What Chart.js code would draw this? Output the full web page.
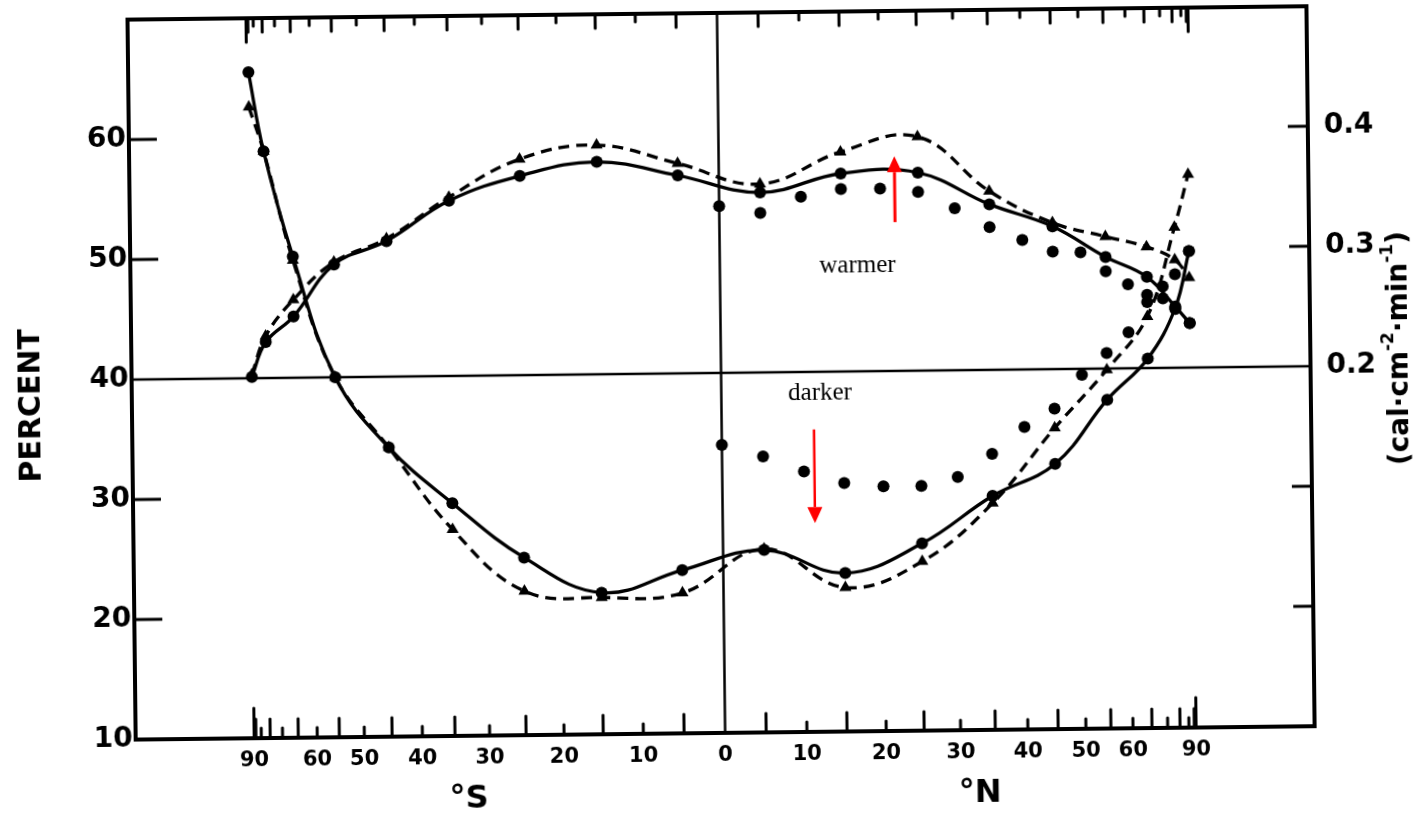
<!DOCTYPE html>
<html>
<head>
<meta charset="utf-8">
<script src="https://cdn.jsdelivr.net/npm/chart.js@4.4.1/dist/chart.umd.min.js"></script>
<style>
  html, body { margin: 0; padding: 0; background: #fff; overflow: hidden; }
  #wrap { width: 1426px; height: 824px; transform: rotate(-0.65deg); transform-origin: 713px 412px; }
  canvas { display: block; }
</style>
</head>
<body>
<div id="wrap"><canvas id="chart" width="1426" height="824"></canvas></div>
<script>
// Centres of the 10-degree latitude bands (negative = south)
const bandLats = [-85, -75, -65, -55, -45, -35, -25, -15, -5, 5, 15, 25, 35, 45, 55, 65, 75, 85];

// Outgoing long-wave radiation, cal cm^-2 min^-1 (right axis)
const irSolid  = [0.201, 0.230, 0.251, 0.294, 0.313, 0.346, 0.366, 0.377, 0.365, 0.350, 0.365, 0.365, 0.338, 0.319, 0.293, 0.276, 0.251, 0.237];
const irDashed = [0.203, 0.235, 0.265, 0.296, 0.315, 0.349, 0.380, 0.391, 0.375, 0.357, 0.383, 0.395, 0.349, 0.322, 0.310, 0.301, 0.290, 0.275];

// Albedo, percent (left axis)
const albedoSolid  = [65.5, 58.9, 50.1, 40.0, 34.1, 29.4, 24.8, 21.8, 23.6, 25.2, 23.2, 25.6, 29.5, 32.1, 37.4, 40.8, 45.0, 49.7];
const albedoDashed = [62.6, 58.9, 49.8, 40.0, 34.1, 27.2, 22.0, 21.4, 21.7, 25.3, 22.0, 24.1, 28.9, 35.1, 39.9, 44.3, 51.7, 56.1];

// Northern hemisphere case, 5-degree steps
const nhLats       = [0, 5, 10, 15, 20, 25, 30, 35, 40, 45, 50, 55, 60, 65, 70, 75, 85];
const irDotted     = [0.339, 0.333, 0.346, 0.352, 0.352, 0.349, 0.335, 0.319, 0.308, 0.298, 0.297, 0.281, 0.270, 0.261, 0.258, 0.249, 0.237];
const albedoDotted = [34.0, 33.0, 31.7, 30.7, 30.4, 30.4, 31.1, 33.0, 35.2, 36.7, 39.5, 41.3, 43.0, 45.5, 46.8, 47.8, 49.7];

// Axis ticks
const xTickLats   = [-90, -60, -50, -40, -30, -20, -10, 0, 10, 20, 30, 40, 50, 60, 90];
const xTickLabels = ['90', '60', '50', '40', '30', '20', '10', '0', '10', '20', '30', '40', '50', '60', '90'];
const yTicks      = [10, 20, 30, 40, 50, 60];
const y2Labelled  = [0.2, 0.3, 0.4];
const y2Marks     = [0.0, 0.1, 0.3, 0.4];
const referenceLevel = 40;

// Annotations (latitude, percent)
const warmerArrow = { lat: 21.9, from: 52.4, to: 57.9 };
const darkerArrow = { lat: 11.3, from: 35.2, to: 27.4 };
const warmerNote  = { text: 'warmer', lat: 17.0, value: 48.8 };
const darkerNote  = { text: 'darker', lat: 12.1, value: 38.2 };

// The abscissa is the sine of latitude, so equal widths mean equal areas
const toX = lat => Math.sin(lat * Math.PI / 180);
const pts = (lats, vals) => lats.map((l, i) => ({ x: toX(l), y: vals[i] }));

const BLACK = '#000';

// keep the plot frame exactly where the axis sizes put it
const noEdgePadding = s => { s.paddingTop = 0; s.paddingBottom = 0; s.paddingLeft = 0; s.paddingRight = 0; };

const decor = {
  id: 'decor',
  beforeDatasetsDraw(chart) {
    const { ctx, chartArea: a, scales: { x, y } } = chart;
    ctx.save();
    ctx.strokeStyle = BLACK;
    ctx.lineWidth = 2.5;
    ctx.beginPath();
    const yr = y.getPixelForValue(referenceLevel);
    ctx.moveTo(a.left, yr); ctx.lineTo(a.right, yr);
    const xe = x.getPixelForValue(0);
    ctx.moveTo(xe, a.top); ctx.lineTo(xe, a.bottom);
    ctx.stroke();
    ctx.restore();
  },
  afterDatasetsDraw(chart) {
    const { ctx, chartArea: a, scales: { x, y, y2 } } = chart;
    ctx.save();
    ctx.strokeStyle = BLACK;
    ctx.fillStyle = BLACK;

    // latitude ticks every 5 degrees along top and bottom
    ctx.lineWidth = 3;
    ctx.lineCap = 'round';
    for (let lat = -90; lat <= 90; lat += 5) {
      if (lat === 0) continue;
      const px = x.getPixelForValue(toX(lat));
      const pole = Math.abs(lat) === 90;
      const odd = lat % 10 !== 0;
      const lb = pole ? 30 : odd ? 19 : 10;
      const lt = pole ? 24 : odd ? 14 : 8;
      ctx.beginPath();
      ctx.moveTo(px, a.bottom); ctx.lineTo(px, a.bottom - lb);
      ctx.moveTo(px, a.top); ctx.lineTo(px, a.top + lt);
      ctx.stroke();
    }

    // inward ticks on the left and right axes
    ctx.lineCap = 'butt';
    for (const v of yTicks) {
      if (v === 10 || v === referenceLevel) continue;
      const py = y.getPixelForValue(v);
      ctx.beginPath(); ctx.moveTo(a.left, py); ctx.lineTo(a.left + 28, py); ctx.stroke();
    }
    for (const v of y2Marks) {
      const py = y2.getPixelForValue(v);
      ctx.beginPath(); ctx.moveTo(a.right, py); ctx.lineTo(a.right - 20, py); ctx.stroke();
    }

    // frame
    ctx.lineWidth = 4;
    ctx.strokeRect(a.left, a.top, a.right - a.left, a.bottom - a.top);

    // red arrows
    const arrow = (ar, w) => {
      const px = x.getPixelForValue(toX(ar.lat));
      const y0 = y.getPixelForValue(ar.from), y1 = y.getPixelForValue(ar.to);
      const dir = Math.sign(y1 - y0), head = 16;
      ctx.strokeStyle = '#f00'; ctx.fillStyle = '#f00'; ctx.lineWidth = w;
      ctx.beginPath(); ctx.moveTo(px, y0); ctx.lineTo(px, y1 - dir * head); ctx.stroke();
      ctx.beginPath();
      ctx.moveTo(px, y1);
      ctx.lineTo(px - 7.5, y1 - dir * head);
      ctx.lineTo(px + 7.5, y1 - dir * head);
      ctx.closePath(); ctx.fill();
    };
    arrow(warmerArrow, 3);
    arrow(darkerArrow, 2.5);

    // notes
    ctx.fillStyle = BLACK;
    ctx.font = '25px "Liberation Serif"';
    ctx.textAlign = 'center'; ctx.textBaseline = 'middle';
    for (const n of [warmerNote, darkerNote]) {
      ctx.fillText(n.text, x.getPixelForValue(toX(n.lat)), y.getPixelForValue(n.value));
    }

    // hemisphere labels
    ctx.font = 'bold 32px "DejaVu Sans"';
    ctx.fillText('°S', x.getPixelForValue(-0.545), a.bottom + 64);
    ctx.fillText('°N', x.getPixelForValue(0.54), a.bottom + 64);

    // left axis title
    ctx.save();
    ctx.translate(32, 398);
    ctx.rotate(-Math.PI / 2);
    ctx.font = 'bold 30px "DejaVu Sans"';
    ctx.fillText('PERCENT', 0, 0);
    ctx.restore();

    // right axis title with superscripts
    ctx.save();
    ctx.translate(1401, 356);
    ctx.rotate(-Math.PI / 2);
    const parts = [['(cal·cm', false], ['-2', true], ['·min', false], ['-1', true], [')', false]];
    const big = 'bold 28px "DejaVu Sans"', small = 'bold 17px "DejaVu Sans"';
    let total = 0;
    for (const [t, sup] of parts) { ctx.font = sup ? small : big; total += ctx.measureText(t).width; }
    let cx = -total / 2;
    ctx.textAlign = 'left';
    for (const [t, sup] of parts) {
      ctx.font = sup ? small : big;
      ctx.fillText(t, cx, sup ? -11 : 0);
      cx += ctx.measureText(t).width;
    }
    ctx.restore();

    ctx.restore();
  }
};

const line = (label, lats, vals, axis, extra) => Object.assign({
  label, data: pts(lats, vals), yAxisID: axis,
  borderColor: BLACK, backgroundColor: BLACK, pointBorderColor: BLACK, pointBackgroundColor: BLACK,
  borderWidth: 3.3, tension: 0.4, pointBorderWidth: 0
}, extra);

new Chart(document.getElementById('chart'), {
  type: 'line',
  data: {
    datasets: [
      line('Outgoing radiation', bandLats, irSolid, 'y2', { pointStyle: 'circle', pointRadius: 6 }),
      line('Outgoing radiation (alt.)', bandLats, irDashed, 'y2', { borderDash: [11, 7], pointStyle: 'triangle', pointRadius: 7 }),
      line('Albedo', bandLats, albedoSolid, 'y', { pointStyle: 'circle', pointRadius: 6 }),
      line('Albedo (alt.)', bandLats, albedoDashed, 'y', { borderDash: [11, 7], pointStyle: 'triangle', pointRadius: 7 }),
      line('Outgoing radiation, NH case', nhLats, irDotted, 'y2', { showLine: false, pointStyle: 'circle', pointRadius: 6 }),
      line('Albedo, NH case', nhLats, albedoDotted, 'y', { showLine: false, pointStyle: 'circle', pointRadius: 6 })
    ]
  },
  options: {
    responsive: false,
    animation: false,
    devicePixelRatio: 1,
    layout: { padding: { top: 13, left: 0, right: 0, bottom: 0 } },
    plugins: { legend: { display: false }, tooltip: { enabled: false } },
    scales: {
      x: {
        type: 'linear', position: 'bottom', min: -1.2516, max: 1.2516,
        grid: { display: false, drawTicks: false }, border: { display: false },
        afterBuildTicks: s => { s.ticks = xTickLats.map(l => ({ value: toX(l) })); },
        afterFit: s => { s.height = 91; noEdgePadding(s); },
        ticks: {
          autoSkip: false, maxRotation: 0, minRotation: 0, padding: 10, color: BLACK,
          font: { family: 'DejaVu Sans', weight: 'bold', size: 21 },
          callback: (v, i) => xTickLabels[i]
        }
      },
      y: {
        type: 'linear', position: 'left', min: 10, max: 70,
        grid: { display: false, drawTicks: false }, border: { display: false },
        afterBuildTicks: s => { s.ticks = yTicks.map(v => ({ value: v })); },
        afterFit: s => { s.width = 132; noEdgePadding(s); },
        ticks: { padding: 3, color: BLACK, font: { family: 'DejaVu Sans', weight: 'bold', size: 28 } }
      },
      y2: {
        type: 'linear', position: 'right', min: -0.1, max: 0.5,
        grid: { display: false, drawTicks: false }, border: { display: false },
        afterBuildTicks: s => { s.ticks = y2Labelled.map(v => ({ value: v })); },
        afterFit: s => { s.width = 115; noEdgePadding(s); },
        ticks: {
          padding: 16, color: BLACK, font: { family: 'DejaVu Sans', weight: 'bold', size: 28 },
          callback: v => (Math.round(v * 10) / 10).toFixed(1)
        }
      }
    }
  },
  plugins: [decor]
});
</script>
</body>
</html>
